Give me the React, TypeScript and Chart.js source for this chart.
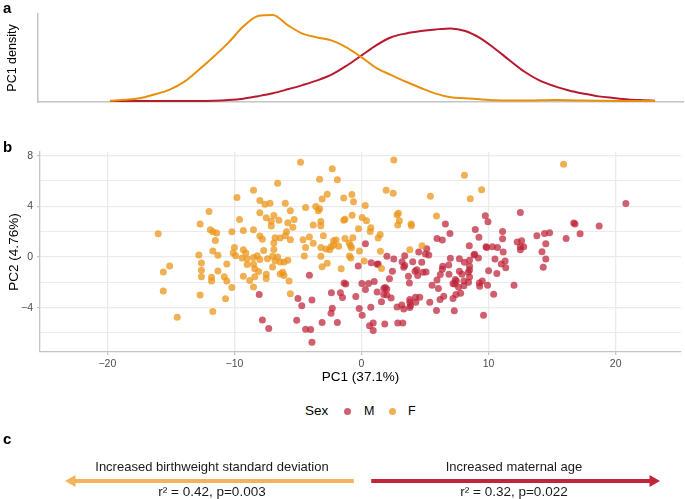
import React, { useEffect, useRef } from "react";
import { Chart, registerables } from "chart.js";

Chart.register(...registerables);

const FONT = '"Liberation Sans", Arial, Helvetica, sans-serif';
Chart.defaults.font.family = FONT;

// ---------- Panel a: PC1 density ----------
const densityX = [-16, -15, -14, -13, -12, -11, -10, -9, -8, -7, -6, -5, -4, -3, -2, -1, 0, 1, 2, 3, 4, 5, 6, 7, 8, 9, 10, 11, 12, 13, 14, 15, 16, 17, 18, 19, 20, 20.8];
const densityF = [0.0002, 0.0012, 0.0027, 0.0065, 0.011, 0.019, 0.031, 0.044, 0.058, 0.074, 0.0845, 0.0855, 0.0755, 0.067, 0.0632, 0.06, 0.053, 0.0433, 0.0327, 0.0258, 0.0191, 0.0129, 0.0073, 0.0037, 0.0028, 0.0017, 0.0008, 0.0004, 0.0004, 0.0007, 0.001, 0.0008, 0.0004, 0.0002, 0.00005, 0, 0, 0];
const densityM = [0, 0, 0, 0, 0, 0, 0, 0.0002, 0.0009, 0.0023, 0.0048, 0.0077, 0.0116, 0.0158, 0.0205, 0.0265, 0.0353, 0.0454, 0.0556, 0.0634, 0.0672, 0.0696, 0.0712, 0.0722, 0.0696, 0.0625, 0.052, 0.0403, 0.0291, 0.0205, 0.0148, 0.0105, 0.0073, 0.0046, 0.003, 0.0016, 0.0008, 0.0003];

// ---------- Panel b: PCA scores ----------
const pcaF: [number, number][] = [
  [-16.0, 1.84], [-15.6, -1.18], [-15.1, -0.71], [-15.6, -2.68], [-12.7, 2.6], [-12.0, 3.6], [-11.9, 2.15], [-11.7, 2.0], [-11.4, 1.9], [-11.5, 1.3],
  [-11.7, 0.47], [-11.3, 0.13], [-12.8, 0.16], [-12.6, -0.47], [-12.6, -1.05], [-12.6, -1.55], [-11.8, -1.6], [-11.8, -1.9], [-11.3, -1.1], [-10.6, -0.55],
  [-10.8, -1.55], [-10.6, -1.9], [-10.2, -2.4], [-12.7, -3.0], [-10.7, -3.3], [-9.8, 4.7], [-10.2, 2.0], [-10.0, 0.76], [-10.1, 0.31], [-9.9, 0.1],
  [-9.3, 2.1], [-9.6, 2.97], [-9.3, 0.58], [-9.1, 0.31], [-9.4, -0.08], [-9.0, -0.13], [-9.0, -0.6], [-9.3, -1.52], [-8.8, -1.86], [-8.5, -2.36],
  [-8.5, 5.28], [-8.5, 2.15], [-8.0, 3.5], [-8.0, 4.46], [-7.6, 4.17], [-7.2, 4.25], [-7.5, 3.1], [-8.0, 1.65], [-7.8, 1.4], [-8.5, -0.03],
  [-8.2, 0.1], [-8.0, -0.2], [-8.5, -0.58], [-8.4, -0.92], [-8.1, -1.15], [-8.4, -1.55], [-7.5, -1.36], [-7.5, -1.7], [-7.7, 0.52], [-7.4, -0.13],
  [-7.1, 2.44], [-6.9, 3.28], [-7.1, 2.83], [-6.5, 2.9], [-6.8, 1.52], [-6.9, 1.1], [-6.9, 0.6], [-7.0, 0.05], [-6.6, 0.0], [-7.0, -0.79],
  [-6.8, -0.29], [-6.4, 1.5], [-6.0, 1.68], [-5.9, 2.0], [-6.4, -1.34], [-6.2, -1.2], [-6.1, -1.47], [-6.4, -0.39], [-6.1, -0.39], [-5.8, -0.26],
  [-6.6, 5.83], [-6.0, 4.25], [-5.6, 3.65], [-5.8, 2.7], [-5.4, 2.34], [-5.3, 2.97], [-5.6, 1.36], [-5.7, -1.89], [-5.6, -2.9], [-4.8, 7.48],
  [-4.4, 3.9], [-4.6, 1.36], [-4.1, 1.57], [-4.4, 0.76], [-3.8, 1.08], [-4.5, 0.08], [-3.8, 2.52], [-3.6, 3.99], [-3.4, 3.65], [-3.3, 3.8],
  [-3.3, 6.14], [-3.1, 4.57], [-3.2, 2.81], [-3.2, 2.47], [-3.0, 1.68], [-3.2, 0.05], [-3.2, 0.76], [-2.8, 0.63], [-2.7, 4.96], [-3.1, -0.76],
  [-2.7, -0.5], [-2.3, 6.96], [-1.9, 6.1], [-2.2, 1.29], [-2.0, 1.34], [-2.4, 0.81], [-2.2, 0.92], [-1.8, 0.84], [-2.5, 0.58], [-1.3, 1.47],
  [-1.4, 2.9], [-1.3, 2.99], [-1.4, 4.65], [-1.6, -0.92], [-0.76, 4.93], [-0.63, 4.36], [-0.74, 3.3], [-0.97, 1.1], [-0.87, 0.89], [-0.68, 1.52],
  [-0.79, 0.73], [-0.95, 0.08], [-0.84, -0.08], [-0.24, 2.23], [-0.16, 0.47], [-14.5, -4.75], [-11.7, -4.3],
  [2.54, 7.66], [0.29, 4.07], [0.05, 3.12], [0.39, 2.86], [0.73, 2.31], [0.68, 2.02], [1.94, 5.28], [2.49, 5.04], [2.8, 3.33], [2.9, 3.46],
  [2.98, 2.86], [2.85, 2.52], [3.9, 2.6], [3.93, 2.47], [3.8, 0.58], [4.76, 0.89], [5.9, 3.23], [5.42, 4.8], [8.1, 6.46], [8.56, 4.59],
  [9.45, 5.3], [15.9, 7.32], [1.47, 1.78], [1.31, 1.5], [1.49, 0.45], [0.21, -0.31], [1.57, -0.9],
];

const pcaM: [number, number][] = [
  [-0.26, -0.71], [-4.1, -1.44], [-1.37, -2.05], [-1.24, -2.13], [-2.37, -2.83], [-1.66, -2.83], [-1.5, -3.2], [-0.45, -3.12], [-5.0, -3.28], [-8.05, -2.97],
  [-7.8, -4.97], [-7.3, -5.65], [-5.1, -5.0], [-4.7, -3.84], [-4.4, -5.7], [-4.0, -5.73], [-3.9, -6.73], [-3.9, -3.39], [-3.1, -5.18], [-2.3, -4.05],
  [-2.4, -4.45], [-1.9, -5.18], [-0.18, -4.07],
  [20.8, 4.23], [18.7, 2.44], [16.7, 2.68], [16.8, 2.6], [17.2, 1.84], [16.1, 1.47], [14.8, 1.92], [14.4, 1.86], [14.5, 1.05], [14.2, 0.42],
  [14.5, -0.16], [14.3, -0.81], [13.8, 1.68], [12.5, 3.52], [12.6, 1.29], [12.25, 1.18], [12.5, 0.81], [12.76, 0.81], [12.5, 0.58], [12.0, -2.23],
  [11.1, 2.02], [11.1, 1.44], [11.15, 0.39], [10.7, 0.76], [10.3, 0.81], [9.8, 0.81], [9.85, 0.76], [9.74, 3.25], [9.95, 2.78], [10.5, -0.16],
  [11.3, -0.31], [11.0, -0.55], [11.35, -0.84], [10.65, -1.31], [10.0, -1.08], [9.92, -2.23], [10.4, -2.94], [9.5, -1.89], [9.27, -2.05], [9.3, -2.31],
  [9.6, -4.59], [8.95, 2.18], [9.24, 1.55], [8.48, 0.89], [8.9, 0.21], [8.85, 0.16], [9.2, -0.08], [8.5, -0.26], [8.1, -0.42], [8.5, -0.73],
  [8.5, -1.02], [8.4, -1.21], [8.5, -1.57], [8.06, -1.89], [8.42, -1.99], [8.06, -2.26], [7.8, -2.86], [7.43, -2.97], [7.2, -3.28], [7.3, -4.25],
  [7.7, -0.13], [7.7, -1.13], [7.9, -1.36], [7.38, -1.78], [7.46, -1.89], [7.33, -2.13], [7.2, -2.1], [7.64, -2.39], [6.96, 1.86], [6.6, 2.6],
  [5.94, 1.47], [6.36, 1.34], [6.99, -0.1], [6.86, -0.63], [6.39, -0.73], [6.36, -0.97], [6.2, -1.39], [6.88, -1.36], [5.94, -1.81], [5.55, -2.23],
  [6.05, -2.49], [6.47, -3.1], [6.18, -3.36], [5.37, -3.57], [5.9, -4.23], [5.13, 0.66], [5.03, 0.24], [5.29, 0.16], [4.5, 0.39], [4.74, -0.42],
  [4.35, -1.0], [4.42, -1.47], [4.21, -1.13], [5.08, -1.18], [4.84, -1.21], [4.58, -3.18], [4.27, -3.57], [4.25, -3.18], [3.8, -3.36], [3.8, -3.57],
  [3.8, -3.99], [3.85, -3.83], [3.17, -3.78], [3.32, -4.1], [2.8, -3.94], [2.85, -5.22], [3.25, -5.22], [3.77, -2.05], [3.69, -1.52], [4.03, -0.37],
  [3.4, 0.1], [3.4, -0.68], [3.32, -0.81], [3.19, -0.37], [2.54, -0.16], [2.43, -1.13], [2.2, -1.71], [2.0, 0.05], [1.86, -2.41], [1.75, -2.49],
  [1.99, -2.52], [1.75, -2.97], [1.99, -2.99], [2.33, -3.23], [1.57, -3.54], [1.83, -5.28], [1.31, -0.55], [1.23, -0.58], [0.76, -0.45], [1.0, -1.94],
  [0.55, -2.1], [0.03, -2.1], [0.31, -2.57], [1.23, -2.76], [0.73, -3.96], [0.05, -4.59], [0.63, -5.43], [0.92, -5.22], [0.92, -5.8], [0.31, 1.05],
];

const sexLabels = ["M", "F"];

// ---------- Panel c: associations ----------
const assocLabels = ["Increased birthweight standard deviation", "Increased maternal age"];
const assocStats = ["r² = 0.42, p=0.003", "r² = 0.32, p=0.022"];
const assocStart = [-0.03, 0.03];
const assocEnd = [-1, 1];

const COL_F_LINE = "#E8900D";
const COL_M_LINE = "#B7192F";
const COL_F_PT = "rgba(235,150,25,0.75)";
const COL_M_PT = "rgba(190,35,55,0.72)";
const COL_F_ARROW = "#F3B35B";
const COL_M_ARROW = "#C1263A";
const AXIS_COL = "#C4C4C4";
const GRID_COL = "#EBEBEB";
const TICK_COL = "#4D4D4D";

const fmt = (v: number) => (v < 0 ? "\u2212" + Math.abs(v) : String(v));

export default function App() {
  const densRef = useRef<HTMLCanvasElement>(null);
  const scatRef = useRef<HTMLCanvasElement>(null);
  const arrRef = useRef<HTMLCanvasElement>(null);

  useEffect(() => {
    const charts: Chart[] = [];

    charts.push(
      new Chart(densRef.current!, {
        type: "line",
        data: {
          datasets: [
            {
              label: "F",
              data: densityX.map((x, i) => ({ x, y: densityF[i] })),
              borderColor: COL_F_LINE,
              borderWidth: 2,
              pointRadius: 0,
              cubicInterpolationMode: "monotone",
              fill: false,
              clip: false as any,
            },
            {
              label: "M",
              data: densityX.map((x, i) => ({ x, y: densityM[i] })),
              borderColor: COL_M_LINE,
              borderWidth: 2,
              pointRadius: 0,
              cubicInterpolationMode: "monotone",
              fill: false,
              clip: false as any,
            },
          ],
        },
        options: {
          animation: false,
          responsive: false,
          maintainAspectRatio: false,
          layout: { padding: { top: 14, right: 2, left: 0, bottom: 0 } },
          plugins: { legend: { display: false }, tooltip: { enabled: false } },
          scales: {
            x: {
              type: "linear",
              min: -20.86,
              max: 22.7,
              ticks: { display: false },
              grid: { display: false, drawTicks: false },
              border: { display: true, color: AXIS_COL, width: 1.5 },
              afterFit: (s: any) => {
                s.height = 8;
              },
            },
            y: {
              type: "linear",
              min: -0.001,
              max: 0.0865,
              ticks: { display: false },
              grid: { display: false, drawTicks: false },
              border: { display: true, color: AXIS_COL, width: 1.5 },
              title: {
                display: true,
                text: "PC1 density",
                color: "#000",
                font: { size: 12.5, family: FONT },
                padding: { top: 5, bottom: 0 },
              },
              afterFit: (s: any) => {
                s.width = 38;
              },
            },
          },
        },
      })
    );

    charts.push(
      new Chart(scatRef.current!, {
        type: "scatter",
        data: {
          datasets: [
            {
              label: "F",
              data: pcaF.map(([x, y]) => ({ x, y })),
              backgroundColor: COL_F_PT,
              borderWidth: 0,
              pointRadius: 3.5,
            },
            {
              label: "M",
              data: pcaM.map(([x, y]) => ({ x, y })),
              backgroundColor: COL_M_PT,
              borderWidth: 0,
              pointRadius: 3.5,
            },
          ],
        },
        options: {
          animation: false,
          responsive: false,
          maintainAspectRatio: false,
          layout: { padding: { top: 32, right: 2, left: 0, bottom: 15 } },
          plugins: { legend: { display: false }, tooltip: { enabled: false } },
          scales: {
            x: {
              type: "linear",
              min: -25.3,
              max: 25.14,
              ticks: {
                stepSize: 10,
                includeBounds: false,
                autoSkip: false,
                maxRotation: 0,
                padding: 3,
                color: TICK_COL,
                font: { size: 10.5, family: FONT },
                callback: (v: any) => fmt(Number(v)),
              },
              grid: { color: GRID_COL, lineWidth: 1.3, drawTicks: true, tickLength: 3, tickColor: AXIS_COL },
              border: { display: true, color: AXIS_COL, width: 1.3 },
              title: {
                display: true,
                text: "PC1 (37.1%)",
                color: "#000",
                font: { size: 13.5, family: FONT },
                padding: { top: 0, bottom: 0 },
              },
              afterFit: (s: any) => {
                s.height = 33;
              },
            },
            y: {
              type: "linear",
              min: -7.5,
              max: 8.29,
              ticks: {
                stepSize: 2,
                includeBounds: false,
                autoSkip: false,
                padding: 4,
                color: TICK_COL,
                font: { size: 10.5, family: FONT },
                callback: (v: any) => (Number(v) % 4 === 0 ? fmt(Number(v)) : ""),
              },
              grid: {
                color: GRID_COL,
                lineWidth: (c: any) => (c.tick && c.tick.value % 4 === 0 ? 1.3 : 1.1),
                drawTicks: true,
                tickLength: 3,
                tickColor: (c: any) => (c.tick && c.tick.value % 4 === 0 ? AXIS_COL : "rgba(0,0,0,0)"),
              },
              border: { display: true, color: AXIS_COL, width: 1.3 },
              title: {
                display: true,
                text: "PC2 (4.76%)",
                color: "#000",
                font: { size: 13.5, family: FONT },
                padding: { top: 6, bottom: 0 },
              },
              afterFit: (s: any) => {
                s.width = 40;
              },
            },
          },
        },
      })
    );

    charts.push(
      new Chart(arrRef.current!, {
        type: "line",
        data: {
          datasets: assocLabels.map((lab, i) => ({
            label: lab,
            data: [
              { x: assocStart[i], y: 0 },
              { x: assocEnd[i], y: 0 },
            ],
            borderColor: i === 0 ? COL_F_ARROW : COL_M_ARROW,
            backgroundColor: i === 0 ? COL_F_ARROW : COL_M_ARROW,
            pointBackgroundColor: i === 0 ? COL_F_ARROW : COL_M_ARROW,
            borderWidth: 4,
            pointStyle: "triangle",
            pointRadius: [0, 7],
            pointRotation: [0, assocEnd[i] < 0 ? -90 : 90],
            pointBorderWidth: 0,
            clip: false as any,
          })),
        },
        options: {
          animation: false,
          responsive: false,
          maintainAspectRatio: false,
          layout: { padding: { top: 0, right: 32, left: 72, bottom: 0 } },
          plugins: { legend: { display: false }, tooltip: { enabled: false } },
          scales: {
            x: { type: "linear", min: -1, max: 1, display: false },
            y: { type: "linear", min: -1, max: 1, display: false },
          },
        },
      })
    );

    return () => charts.forEach((c) => c.destroy());
  }, []);

  const panelLabel = (t: string, top: number) => (
    <div
      style={{
        position: "absolute",
        left: 3,
        top,
        fontWeight: "bold",
        fontSize: 15,
        lineHeight: "15px",
        color: "#000",
      }}
    >
      {t}
    </div>
  );

  const centered = (text: string, cx: number, cy: number, size: number) => (
    <div
      style={{
        position: "absolute",
        left: cx - 200,
        width: 400,
        top: cy - size / 2,
        height: size,
        lineHeight: size + "px",
        fontSize: size,
        textAlign: "center",
        color: "#1A1A1A",
        whiteSpace: "nowrap",
      }}
    >
      {text}
    </div>
  );

  const abs = (content: React.ReactNode, left: number, cy: number, size: number) => (
    <div
      style={{
        position: "absolute",
        left,
        top: cy - size / 2,
        height: size,
        lineHeight: size + "px",
        fontSize: size,
        color: "#000",
        whiteSpace: "nowrap",
      }}
    >
      {content}
    </div>
  );

  const dot = (cx: number, cy: number, color: string) => (
    <div
      style={{
        position: "absolute",
        left: cx - 3.5,
        top: cy - 3.5,
        width: 7,
        height: 7,
        borderRadius: 3.5,
        background: color,
      }}
    />
  );

  return (
    <div
      style={{
        position: "absolute",
        left: 0,
        top: 0,
        width: 685,
        height: 499,
        background: "#fff",
        fontFamily: FONT,
        overflow: "hidden",
      }}
    >
      <canvas ref={densRef} width={685} height={110} style={{ position: "absolute", left: 0, top: 0 }} />
      <canvas ref={scatRef} width={685} height={280} style={{ position: "absolute", left: 0, top: 120 }} />
      <canvas ref={arrRef} width={685} height={24} style={{ position: "absolute", left: 0, top: 469 }} />
      {panelLabel("a", 0)}
      {panelLabel("b", 139)}
      {panelLabel("c", 431)}
      {abs("Sex", 305, 411, 13.5)}
      {dot(347.5, 411, COL_M_PT)}
      {abs(sexLabels[0], 364, 411, 12.5)}
      {dot(392, 411, COL_F_PT)}
      {abs(sexLabels[1], 408, 411, 12.5)}
      {centered(assocLabels[0], 212, 466, 13)}
      {centered(assocLabels[1], 514, 466, 13)}
      {centered(assocStats[0], 212, 492, 13.5)}
      {centered(assocStats[1], 514, 492, 13.5)}
    </div>
  );
}
